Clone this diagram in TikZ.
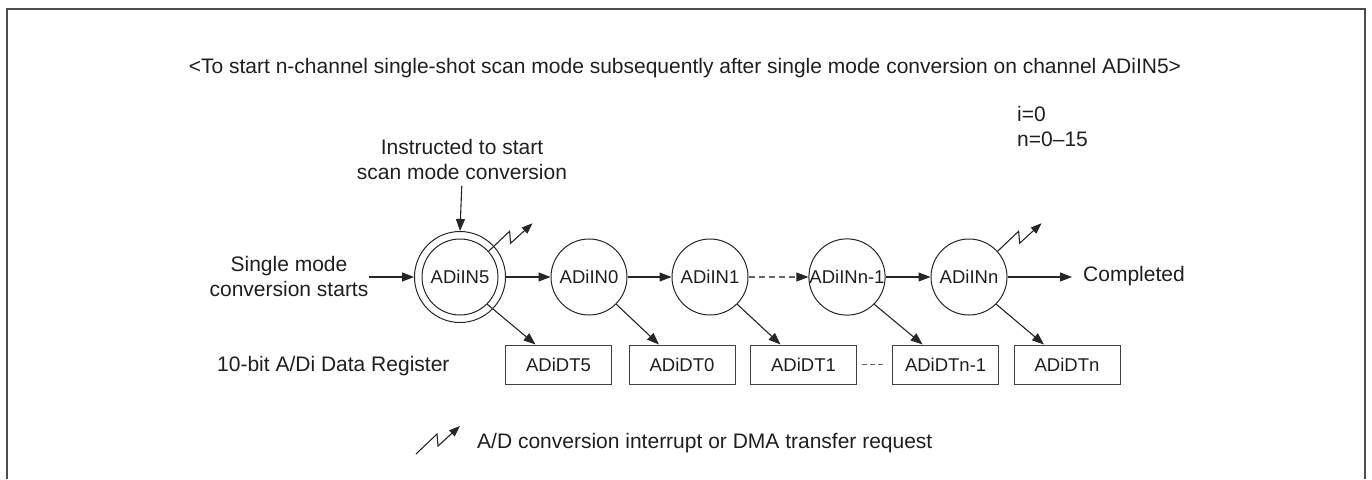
\documentclass[tikz,border=0pt]{standalone}
\usepackage{fontspec}
\setmainfont{Liberation Sans}
\usetikzlibrary{arrows.meta}
\begin{document}
\begin{tikzpicture}[x=1pt,y=-1pt,
  lbl/.style={font=\fontsize{21}{25}\selectfont, inner sep=0pt, text=black!88},
  chan/.style={circle, draw=black!85, line width=1pt, minimum size=76pt, inner sep=0pt, font=\fontsize{18.5}{22}\selectfont, text=black!88},
  ring/.style={circle, draw=black!85, line width=1pt, minimum size=91pt, inner sep=0pt},
  reg/.style={draw=black!75, line width=1pt, minimum width=106pt, minimum height=39pt, inner sep=0pt, font=\fontsize{18.5}{22}\selectfont, text=black!88},
  arr/.style={draw=black!85, line width=1.1pt, -{Triangle[length=12pt,width=9pt]}},
  bolt/.style={draw=black!85, line width=1.1pt, -{Triangle[length=11pt,width=8pt]}},
  dasharr/.style={draw=black!60, line width=1.1pt, dash pattern=on 6pt off 4pt, -{Triangle[length=12pt,width=9pt,color=black!85,fill=black!85]}},
  dashlink/.style={draw=black!60, line width=1pt, dash pattern=on 5pt off 3pt},
  outerframe/.style={draw=black!70, line width=2pt}]
\useasboundingbox (0,0) rectangle (1372,479);
\draw[outerframe] (7,479) -- (7,9) -- (1365,9) -- (1365,479);

% texts
\node[lbl] (title) at (685,68) {<To start n-channel single-shot scan mode subsequently after single mode conversion on channel ADiIN5>};
\node[lbl, anchor=west, align=left] (vars) at (1017,126) {i=0\\n=0–15};
\node[lbl, align=center] (instr) at (462,159.5) {Instructed to start\\scan mode conversion};
\node[lbl, align=center] (single) at (289,276) {Single mode\\conversion starts};
\node[lbl, anchor=west] (reglbl) at (217,366) {10-bit A/Di Data Register};
\node[lbl, anchor=west] (done) at (1083,276) {Completed};
\node[lbl, anchor=west] (legend) at (477,443) {A/D conversion interrupt or DMA transfer request};

% channels
\node[ring] (IN5o) at (460,277) {};
\node[chan] (IN5) at (460,277) {ADiIN5};
\node[chan] (IN0) at (589,277) {ADiIN0};
\node[chan] (IN1) at (710,277) {ADiIN1};
\node[chan] (INm) at (847,277) {ADiINn-1};
\node[chan] (INn) at (969,277) {ADiINn};

% registers
\node[reg] (DT5) at (558.5,364.5) {ADiDT5};
\node[reg] (DT0) at (682,364.5) {ADiDT0};
\node[reg] (DT1) at (803.5,364.5) {ADiDT1};
\node[reg] (DTm) at (945.6,364.5) {ADiDTn-1};
\node[reg] (DTn) at (1067,364.5) {ADiDTn};

% flow arrows
\draw[arr] (single.east |- IN5o.west) -- (IN5o.west);
\draw[arr, shorten <=6pt] (instr.south) -- (IN5o.north);
\draw[arr] (IN5o.east) -- (IN0.west);
\draw[arr] (IN0.east) -- (IN1.west);
\draw[dasharr] (IN1.east) -- (INm.west);
\draw[arr] (INm.east) -- (INn.west);
\draw[arr, shorten >=11pt] (INn.east) -- (done.west |- INn.east);

% result arrows
\draw[arr] (IN5.-45) -- ([xshift=-23pt]DT5.north);
\draw[arr] (IN0.-45) -- ([xshift=-23pt]DT0.north);
\draw[arr] (IN1.-45) -- ([xshift=-23pt]DT1.north);
\draw[arr] (INm.-45) -- ([xshift=-23pt]DTm.north);
\draw[arr] (INn.-45) -- ([xshift=-23pt]DTn.north);
\draw[dashlink, shorten <=5pt, shorten >=7pt] (DT1.east) -- (DTm.west);

% interrupt bolts
\draw[bolt] (IN5.42) -- ++(21,-20) -- ++(1,12) -- ++(22,-20);
\draw[bolt] (INn.42) -- ++(21,-20) -- ++(1,12) -- ++(22,-20);
\coordinate (lg) at (416,454);
\draw[bolt] (lg) -- ++(21,-20) -- ++(1,12) -- ++(22,-20);
\end{tikzpicture}
\end{document}
